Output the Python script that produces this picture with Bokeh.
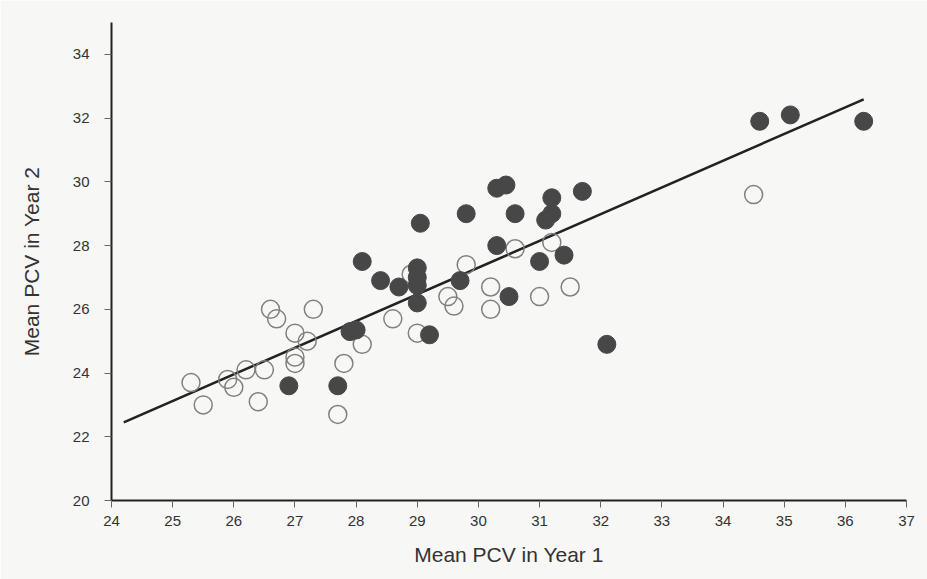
from bokeh.plotting import figure
from bokeh.models import Range1d, FixedTicker
from bokeh.embed import file_html
from bokeh.resources import INLINE

# Filled points (dark)
filled_x = [26.9, 27.7, 27.9, 28.0, 28.1, 28.4, 28.7, 29.05, 29.0, 29.0, 29.0, 29.0, 29.2,
            29.8, 29.7, 30.3, 30.45, 30.6, 30.3, 30.5, 31.2, 31.2, 31.1, 31.7, 31.0, 31.4,
            32.1, 34.6, 35.1, 36.3]
filled_y = [23.6, 23.6, 25.3, 25.35, 27.5, 26.9, 26.7, 28.7, 27.3, 27.0, 26.75, 26.2, 25.2,
            29.0, 26.9, 29.8, 29.9, 29.0, 28.0, 26.4, 29.5, 29.0, 28.8, 29.7, 27.5, 27.7,
            24.9, 31.9, 32.1, 31.9]

# Open points (hollow)
open_x = [25.3, 25.5, 25.9, 26.0, 26.2, 26.5, 26.4, 26.6, 26.7, 27.0, 27.2, 27.3, 27.0, 27.0,
          27.8, 27.7, 28.1, 28.6, 29.0, 28.9, 29.8, 29.5, 29.6, 30.2, 30.2, 30.6, 31.0, 31.2,
          31.5, 34.5]
open_y = [23.7, 23.0, 23.8, 23.55, 24.1, 24.1, 23.1, 26.0, 25.7, 25.25, 25.0, 26.0, 24.5, 24.3,
          24.3, 22.7, 24.9, 25.7, 25.25, 27.1, 27.4, 26.4, 26.1, 26.7, 26.0, 27.9, 26.4, 28.1,
          26.7, 29.6]

# Fitted regression line
fit_x = [24.2, 36.3]
fit_slope = 0.838
fit_intercept = 2.17

x_ticks = list(range(24, 38))
y_ticks = list(range(20, 35, 2))

bg = "#f7f7f5"
p = figure(frame_width=795, frame_height=478, x_range=Range1d(24, 37), y_range=Range1d(20, 35),
           output_backend="svg", toolbar_location=None,
           min_border_left=111, min_border_right=21, min_border_top=22, min_border_bottom=79,
           background_fill_color=bg, border_fill_color=bg, outline_line_color=None)
p.xgrid.visible = False
p.ygrid.visible = False

fit_y = [fit_intercept + fit_slope * v for v in fit_x]
p.line(fit_x, fit_y, line_color="#222222", line_width=2.5)

p.scatter(open_x, open_y, size=18, fill_color=None, line_color="#808080", line_width=1.5)
p.scatter(filled_x, filled_y, size=18, fill_color="#474747", line_color="#474747", line_width=1)

for ax in (p.xaxis[0], p.yaxis[0]):
    ax.axis_line_color = "#222222"
    ax.axis_line_width = 2
    ax.major_tick_line_color = "#666666"
    ax.major_tick_out = 7
    ax.major_tick_in = 0
    ax.minor_tick_line_color = None
    ax.major_label_text_font = "Liberation Sans"
    ax.major_label_text_font_size = "15px"
    ax.major_label_text_color = "#333333"
    ax.axis_label_text_font = "Liberation Sans"
    ax.axis_label_text_font_size = "21px"
    ax.axis_label_text_font_style = "normal"
    ax.axis_label_text_color = "#333333"

p.xaxis[0].ticker = FixedTicker(ticks=x_ticks)
p.yaxis[0].ticker = FixedTicker(ticks=y_ticks)
p.xaxis[0].axis_label = "Mean PCV in Year 1"
p.yaxis[0].axis_label = "Mean PCV in Year 2"
p.xaxis[0].major_label_standoff = 8
p.yaxis[0].major_label_standoff = 15
p.xaxis[0].axis_label_standoff = 14
p.yaxis[0].axis_label_standoff = 27

open("out.html", "w").write(file_html(p, INLINE))
